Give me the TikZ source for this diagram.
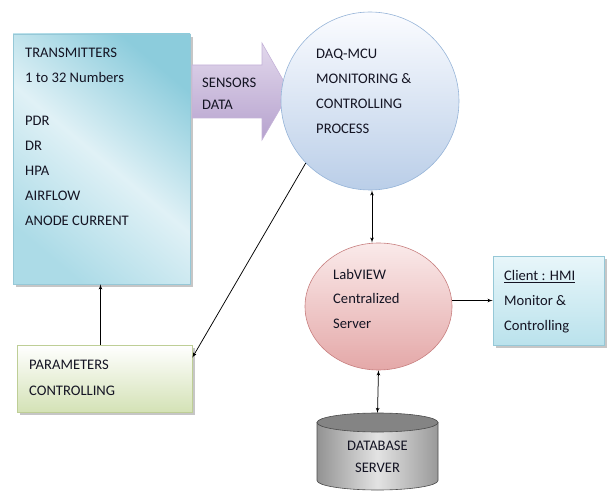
\documentclass[tikz,border=0pt]{standalone}
\usepackage{fontspec}
\setmainfont{Carlito}
\usetikzlibrary{arrows,shapes.geometric,shadows}
\definecolor{txdark}{RGB}{140,204,220}
\definecolor{txlight}{RGB}{224,241,246}
\definecolor{txmid}{RGB}{172,219,231}
\definecolor{txline}{RGB}{150,200,215}
\definecolor{arrtop}{RGB}{226,216,236}
\definecolor{arrbot}{RGB}{182,162,206}
\definecolor{arrline}{RGB}{196,178,216}
\definecolor{daqtop}{RGB}{251,252,255}
\definecolor{daqbot}{RGB}{186,206,232}
\definecolor{daqline}{RGB}{150,180,216}
\definecolor{labtop}{RGB}{250,234,234}
\definecolor{labbot}{RGB}{228,168,168}
\definecolor{labline}{RGB}{200,128,128}
\definecolor{clitop}{RGB}{232,246,250}
\definecolor{clibot}{RGB}{186,226,236}
\definecolor{parbot}{RGB}{212,226,182}
\definecolor{parline}{RGB}{190,206,150}
\definecolor{dbtop}{RGB}{132,132,132}
\definecolor{ink}{RGB}{20,20,35}
\tikzset{shad/.style = {drop shadow={shadow xshift=3pt, shadow yshift=-3pt, opacity=0.45, fill=gray}}}
\tikzset{txbox/.style = {rectangle, draw=txline, semithick, shad, top color=txdark, bottom color=txmid, middle color=txlight, shading angle=-40}}
\tikzset{sensarrow/.style = {draw=arrline, semithick, top color=arrtop, bottom color=arrbot}}
\tikzset{daqcirc/.style = {circle, draw=daqline, semithick, top color=daqtop, bottom color=daqbot, minimum size=178pt, inner sep=0pt}}
\tikzset{labell/.style = {ellipse, draw=labline, semithick, top color=labtop, bottom color=labbot, minimum width=147pt, minimum height=127pt, inner sep=0pt}}
\tikzset{clibox/.style = {rectangle, draw=txline, semithick, shad, top color=clitop, bottom color=clibot, minimum width=111pt, minimum height=89pt}}
\tikzset{parbox/.style = {rectangle, draw=parline, semithick, shad, top color=white, bottom color=parbot, minimum width=175pt, minimum height=67pt}}
\tikzset{dbbody/.style = {draw=gray!60!black, semithick, left color=gray!85, right color=gray!80, middle color=gray!22}}
\tikzset{dbcap/.style = {draw=gray!60!black, semithick, fill=dbtop}}
\tikzset{lbl/.style = {anchor=north west, align=left, inner sep=0pt, text=ink, font=\fontsize{14.6}{25}\selectfont}}
\tikzset{edge/.style = {->,> = latex', line width=0.75pt}}
\tikzset{dedge/.style = {<->,> = latex', line width=0.75pt}}

\begin{document}
\begin{tikzpicture}[x=1pt,y=-1pt]
\useasboundingbox (0,0) rectangle (608,492);

\node[txbox, minimum width=177pt, minimum height=250pt] (tx) at (101.5,159) {};
\node[lbl] (txt) at (25,48) {TRANSMITTERS\\1 to 32 Numbers\\[18pt]PDR\\DR\\HPA\\AIRFLOW\\ANODE CURRENT};

\path[sensarrow] (192,65) -- (262,65) -- (262,43) -- (290,92) -- (262,140) -- (262,118) -- (192,118) -- cycle;
\node[lbl, font=\fontsize{14.6}{22}\selectfont] (sens) at (202,78) {SENSORS\\DATA};

\node[daqcirc] (daq) at (370,101) {};
\node[lbl] (daqt) at (316,49) {DAQ-MCU\\MONITORING \&\\CONTROLLING\\PROCESS};

\node[labell] (lab) at (378.5,306.5) {};
\node[lbl, font=\fontsize{14.6}{24.5}\selectfont] (labt) at (333,269) {LabVIEW\\Centralized\\Server};

\node[clibox] (cli) at (548.5,300.5) {};
\node[lbl] (clit) at (504,270) {\underline{Client : HMI}\\Monitor \&\\Controlling};

\node[parbox] (par) at (104.5,378.5) {};
\node[lbl, font=\fontsize{14.6}{26}\selectfont] (part) at (29,360) {PARAMETERS\\CONTROLLING};

\path[dbbody] (317,422.5) -- (317,480.5) arc[start angle=180, end angle=0, x radius=60.5, y radius=9.5] -- (438,422.5) -- cycle;
\path[dbcap] (377.5,422.5) ellipse [x radius=60.5, y radius=9.5];
\coordinate (db) at (377.5,413);
\node[lbl, anchor=center, align=center, font=\fontsize{14.6}{22}\selectfont] (dbt) at (377.5,457) {DATABASE\\SERVER};

\draw[edge] ([xshift=-4pt]par.north) to ([xshift=-4pt]par.north |- tx.south);
\draw[edge] (daq.224) to ([yshift=-13pt]par.north east);
\draw[dedge] ([xshift=2pt]daq.south) to ([xshift=2pt]daq.south |- lab.north);
\draw[edge] (lab.east |- cli.west) to (cli.west);
\draw[dedge] (lab.south) to (db);
\end{tikzpicture}
\end{document}
